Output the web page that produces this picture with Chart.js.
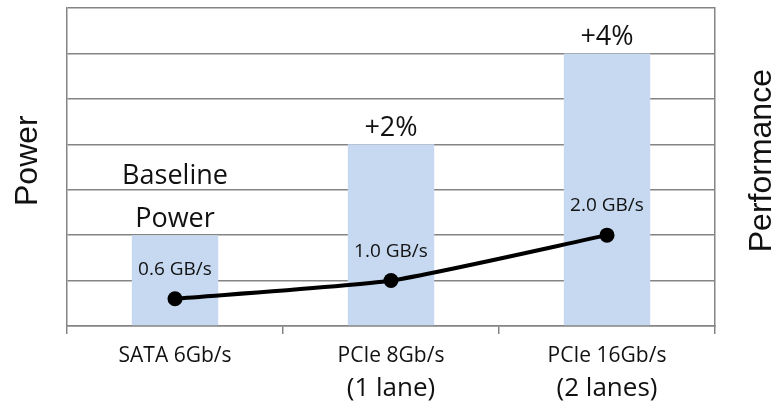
<!DOCTYPE html>
<html>
<head>
<meta charset="utf-8">
<script src="https://cdn.jsdelivr.net/npm/chart.js@4.4.1/dist/chart.umd.min.js"></script>
<style>
  html, body { margin: 0; padding: 0; background: #ffffff; }
  #wrap { width: 775px; height: 402px; position: relative; }
</style>
</head>
<body>
<div id="wrap"><canvas id="c" width="775" height="402"></canvas></div>
<script>
// Interface options compared
const categories = ['SATA 6Gb/s', 'PCIe 8Gb/s', 'PCIe 16Gb/s'];
const laneNotes = ['', '(1 lane)', '(2 lanes)'];
// Relative power (bars) and throughput in GB/s (line)
const powerValues = [2, 4, 6];
const powerLabels = [['Baseline', 'Power'], ['+2%'], ['+4%']];
const throughputValues = [0.6, 1.0, 2.0];
const axisMax = 7;

const GRID = '#848484';
const TEXT = '#111111';
const UI_FONT = '"Open Sans", "DejaVu Sans", sans-serif';
const TITLE_FONT = '"Liberation Sans", Arial, sans-serif';

// Text annotations: bar captions, throughput labels, lane notes, side titles
const annotations = {
  id: 'annotations',
  afterDatasetsDraw(chart) {
    const ctx = chart.ctx;
    const area = chart.chartArea;
    ctx.save();
    ctx.fillStyle = TEXT;
    ctx.textAlign = 'center';
    ctx.textBaseline = 'alphabetic';

    // captions above the bars
    const barMeta = chart.getDatasetMeta(0);
    ctx.font = '27px ' + UI_FONT;
    barMeta.data.forEach((bar, i) => {
      const lines = powerLabels[i];
      const base = bar.y - 8;
      for (let k = lines.length - 1, n = 0; k >= 0; k--, n++) {
        ctx.fillText(lines[k], bar.x, base - n * 43);
      }
    });

    // throughput labels above the points
    const lineMeta = chart.getDatasetMeta(1);
    ctx.font = '19px ' + UI_FONT;
    lineMeta.data.forEach((pt, i) => {
      ctx.fillText(throughputValues[i].toFixed(1) + ' GB/s', pt.x, pt.y - 24);
    });

    // lane notes under the category labels
    const xs = chart.scales.x;
    ctx.font = '26px ' + UI_FONT;
    laneNotes.forEach((note, i) => {
      if (note) ctx.fillText(note, xs.getPixelForValue(i), area.bottom + 70);
    });

    // side titles, both reading bottom to top
    ctx.font = '32px ' + TITLE_FONT;
    const midY = area.top + (area.bottom - area.top) * 0.48;
    ctx.save();
    ctx.translate(area.left - 30, midY);
    ctx.rotate(-Math.PI / 2);
    ctx.fillText('Power', 0, 0);
    ctx.restore();
    ctx.save();
    ctx.translate(area.right + 56, midY);
    ctx.rotate(-Math.PI / 2);
    ctx.fillText('Performance', 0, 0);
    ctx.restore();

    ctx.restore();
  }
};

new Chart(document.getElementById('c'), {
  data: {
    labels: categories,
    datasets: [
      {
        type: 'bar',
        data: powerValues,
        backgroundColor: '#c6d9f0',
        borderWidth: 0,
        categoryPercentage: 1,
        barPercentage: 0.4,
        yAxisID: 'y',
        order: 1
      },
      {
        type: 'line',
        data: throughputValues,
        borderColor: '#000000',
        borderWidth: 4,
        tension: 0.18,
        pointRadius: 7.5,
        pointBackgroundColor: '#000000',
        pointBorderWidth: 0,
        yAxisID: 'y1',
        order: 0
      }
    ]
  },
  options: {
    responsive: false,
    animation: false,
    devicePixelRatio: 1,
    layout: { padding: { top: 8, left: 0, right: 0, bottom: 0 } },
    plugins: {
      legend: { display: false },
      tooltip: { enabled: false }
    },
    scales: {
      x: {
        grid: {
          offset: true,
          drawOnChartArea: false,
          drawTicks: true,
          tickLength: 8,
          color: GRID,
          lineWidth: 1.5
        },
        border: { display: true, color: GRID, width: 1.5 },
        ticks: {
          color: TEXT,
          font: { family: UI_FONT, size: 21 },
          padding: 9,
          maxRotation: 0
        },
        afterFit(scale) { scale.height = 76; }
      },
      y: {
        position: 'left',
        min: 0,
        max: axisMax,
        ticks: { display: false, stepSize: 1 },
        grid: { color: GRID, lineWidth: 1.5, drawTicks: false },
        border: { display: true, color: GRID, width: 1.5 },
        afterFit(scale) { scale.width = 67; }
      },
      y1: {
        position: 'right',
        min: 0,
        max: axisMax,
        ticks: { display: false, stepSize: 1 },
        grid: { drawOnChartArea: false, drawTicks: false },
        border: { display: true, color: GRID, width: 1.5 },
        afterFit(scale) { scale.width = 60; }
      }
    }
  },
  plugins: [annotations]
});
</script>
</body>
</html>
